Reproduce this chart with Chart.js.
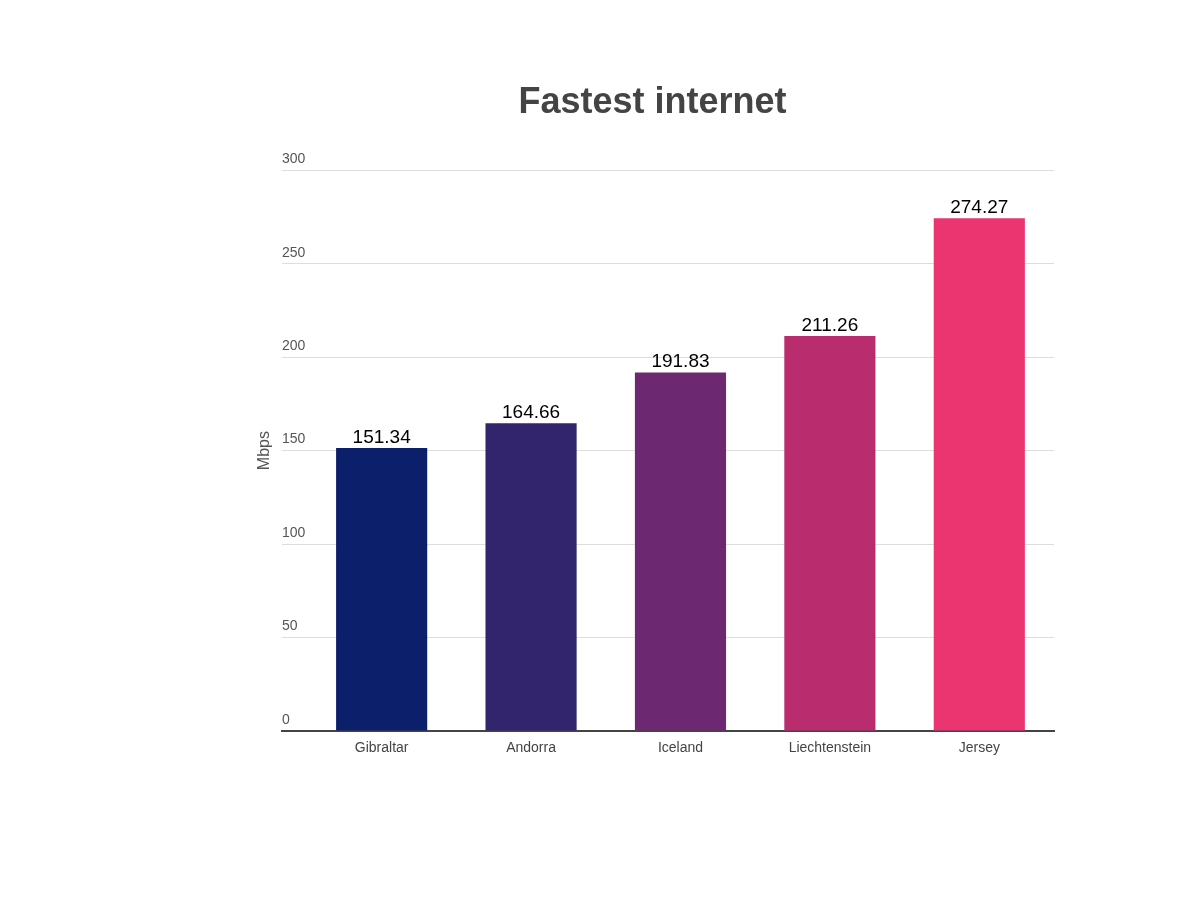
<!DOCTYPE html>
<html>
<head>
<meta charset="utf-8">
<script src="https://cdn.jsdelivr.net/npm/chart.js@4"></script>
<style>
html,body{margin:0;padding:0;background:#fff;}
#wrap{width:1200px;height:900px;}
</style>
</head>
<body>
<div id="wrap"><canvas id="c" width="1200" height="900"></canvas></div>
<script>
const categories = ["Gibraltar", "Andorra", "Iceland", "Liechtenstein", "Jersey"];
const speeds = [151.34, 164.66, 191.83, 211.26, 274.27];
const barColors = ["#0c1f6b", "#32246d", "#6c2870", "#b92d6f", "#ea3570"];
const yTicks = [0, 50, 100, 150, 200, 250, 300];

const FONT = "'Liberation Sans', Arial, sans-serif";

const valueLabels = {
  id: 'valueLabels',
  afterDatasetsDraw(chart) {
    const ctx = chart.ctx;
    const meta = chart.getDatasetMeta(0);
    ctx.save();
    ctx.font = "19px " + FONT;
    ctx.fillStyle = "#000";
    ctx.textAlign = "center";
    ctx.textBaseline = "bottom";
    meta.data.forEach((bar, i) => {
      ctx.fillText(speeds[i].toFixed(2), bar.x, bar.y - 1);
    });
    ctx.restore();
  }
};

new Chart(document.getElementById('c'), {
  type: 'bar',
  data: {
    datasets: [{
      data: speeds.map((v, i) => ({ x: i, y: v })),
      backgroundColor: barColors,
      borderWidth: 0,
      barPercentage: 0.61,
      categoryPercentage: 1.0
    }]
  },
  options: {
    responsive: false,
    animation: false,
    devicePixelRatio: 1,
    layout: { padding: { left: 251, right: 146, top: 60, bottom: 129 } },
    plugins: {
      legend: { display: false },
      tooltip: { enabled: false },
      title: {
        display: true,
        text: "Fastest internet",
        color: "#444",
        font: { family: FONT, size: 36, weight: 'bold' },
        padding: { top: 21, bottom: 46 }
      }
    },
    scales: {
      x: {
        type: 'linear',
        offset: false,
        min: -0.667,
        max: 4.5,
        afterBuildTicks(scale) { scale.ticks = categories.map((c, i) => ({ value: i })); },
        grid: { display: false, drawTicks: false, offset: false },
        border: { display: true, color: "#444", width: 2 },
        ticks: {
          color: "#444",
          font: { family: FONT, size: 14 },
          padding: 9,
          autoSkip: false,
          maxRotation: 0,
          callback: (v) => categories[v]
        },
        afterFit(scale) { scale.height = 40; }
      },
      y: {
        min: 0, max: 300,
        afterBuildTicks(scale) { scale.ticks = yTicks.map(v => ({ value: v })); },
        grid: { color: "#dddddd", lineWidth: 1, drawTicks: false },
        border: { display: false },
        ticks: {
          mirror: true,
          padding: 0,
          labelOffset: -11,
          color: "#555",
          font: { family: FONT, size: 14 }
        },
        title: {
          display: true,
          text: "Mbps",
          color: "#555",
          font: { family: FONT, size: 16 },
          padding: { top: 4, bottom: 0 }
        },
        afterFit(scale) { scale.width = 31; }
      }
    }
  },
  plugins: [valueLabels]
});
</script>
</body>
</html>
